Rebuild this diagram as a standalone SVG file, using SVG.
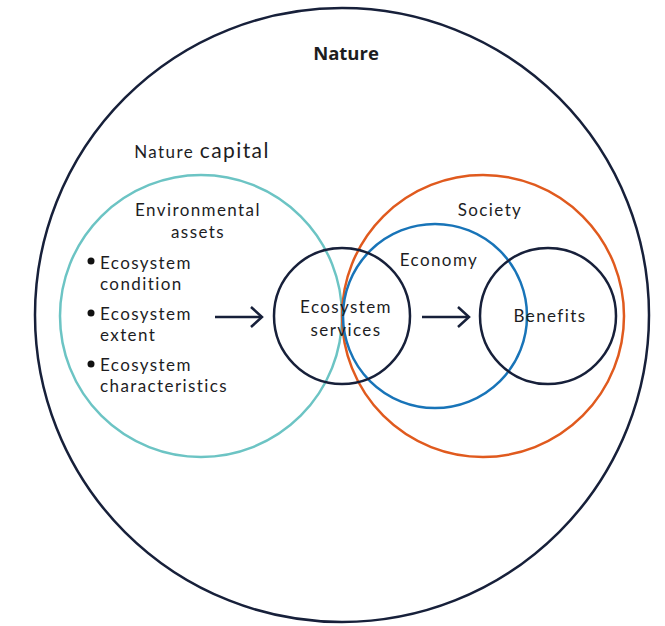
<svg xmlns="http://www.w3.org/2000/svg" width="665" height="626" viewBox="0 0 665 626">
<defs>
<style>
.t{font-family:Lato,"Open Sans","Liberation Sans",sans-serif;fill:#1d1d1f;font-size:17px;letter-spacing:1.4px}
.c{fill:none;stroke-width:2.5}
.arrow{fill:none;stroke:#17203a;stroke-width:2.5}
</style>
<marker id="ah" markerWidth="16" markerHeight="24" refX="13" refY="12" orient="auto" markerUnits="userSpaceOnUse">
<path d="M2,2 L13,12 L2,22" fill="none" stroke="#17203a" stroke-width="2.5"/>
</marker>
</defs>
<rect width="665" height="626" fill="#fff"/>
<g id="nature">
<circle class="c" cx="342" cy="315" r="307" stroke="#17203a"/>
<text x="346" y="60" text-anchor="middle" font-family="'Open Sans',Lato,sans-serif" font-weight="bold" font-size="18.5" fill="#1d1d1f">Nature</text>
</g>
<g id="nature-capital">
<circle class="c" cx="201" cy="316" r="141" stroke="#6cc4c4"/>
<text class="t" x="202" y="158" text-anchor="middle" font-size="18" letter-spacing="1.2">Nature <tspan font-size="21">capital</tspan></text>
<text class="t" x="198" y="216" text-anchor="middle">Environmental</text>
<text class="t" x="198" y="238" text-anchor="middle">assets</text>
<circle cx="91" cy="261" r="3.5" fill="#111"/>
<text class="t" x="100" y="269">Ecosystem</text>
<text class="t" x="100" y="290">condition</text>
<circle cx="91" cy="313" r="3.5" fill="#111"/>
<text class="t" x="100" y="320">Ecosystem</text>
<text class="t" x="100" y="341">extent</text>
<circle cx="91" cy="364" r="3.5" fill="#111"/>
<text class="t" x="100" y="371">Ecosystem</text>
<text class="t" x="100" y="392">characteristics</text>
</g>
<g id="society">
<circle class="c" cx="483" cy="316" r="141" stroke="#e05a1e"/>
<text class="t" x="490" y="216" text-anchor="middle">Society</text>
</g>
<g id="economy">
<circle class="c" cx="435" cy="316" r="92" stroke="#1874b8"/>
<text class="t" x="439" y="266" text-anchor="middle">Economy</text>
</g>
<g id="ecosystem-services">
<circle class="c" cx="342" cy="316" r="68" stroke="#17203a"/>
<text class="t" x="346" y="312.5" text-anchor="middle">Ecosystem</text>
<text class="t" x="346" y="335.5" text-anchor="middle">services</text>
</g>
<g id="benefits">
<circle class="c" cx="548" cy="316" r="68" stroke="#17203a"/>
<text class="t" x="550" y="322" text-anchor="middle">Benefits</text>
</g>
<g id="connectors">
<line class="arrow" x1="215" y1="317" x2="262" y2="317" marker-end="url(#ah)"/>
<line class="arrow" x1="422" y1="317" x2="469" y2="317" marker-end="url(#ah)"/>
</g>
</svg>
